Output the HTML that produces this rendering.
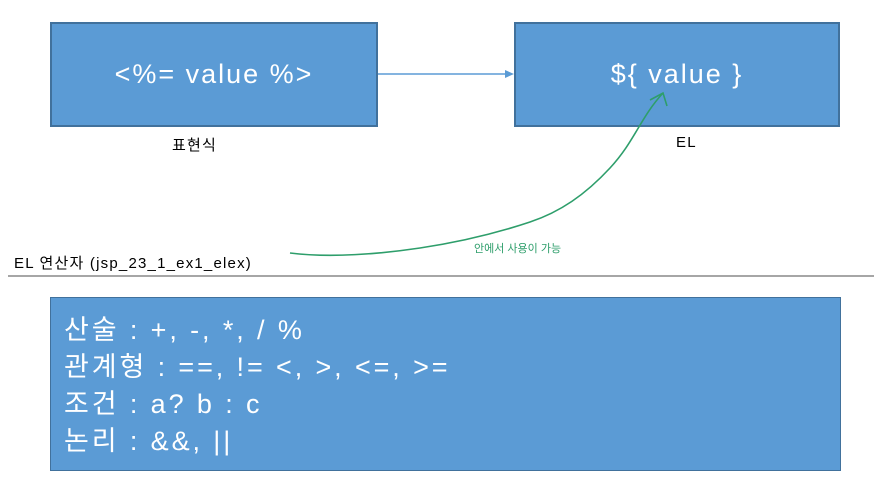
<!DOCTYPE html>
<html><head><meta charset="utf-8"><style>
body{margin:0;width:874px;height:483px;background:#fff;position:relative;overflow:hidden;font-family:"Liberation Sans","Noto Sans CJK KR",sans-serif}
.box{position:absolute;background:#5b9bd5;border:2px solid #41719c;box-sizing:border-box;color:#fff;display:flex;align-items:center;justify-content:center}
.lbl{position:absolute;font-size:15px;color:#000;letter-spacing:1.2px}
</style></head><body>
<div class="box" style="left:50px;top:22px;width:328px;height:105px;font-size:27px;letter-spacing:2px">&lt;%= value %&gt;</div>
<div class="box" style="left:514px;top:22px;width:326px;height:105px;font-size:27px;letter-spacing:2px">${ value }</div>
<div class="lbl" style="left:172px;top:134px">표현식</div>
<div class="lbl" style="left:676px;top:134px">EL</div>
<div class="lbl" style="left:14px;top:252px">EL 연산자 (jsp_23_1_ex1_elex)</div>
<svg width="874" height="483" style="position:absolute;left:0;top:0">
<line x1="378" y1="74" x2="508" y2="74" stroke="#5b9bd5" stroke-width="1.5"/>
<polygon points="514,74 505,70 505,78" fill="#5b9bd5"/>
<path d="M290,253 C330,258 380,254 420,248 S500,232 530,222 S585,195 610,168 S640,118 663,93" fill="none" stroke="#2e9e6b" stroke-width="1.6"/>
<path d="M650,100 L663,93 L667,106" fill="none" stroke="#2e9e6b" stroke-width="1.6"/>
<text x="474" y="252" font-size="11" fill="#2e9e6b" font-family="Liberation Sans,Noto Sans CJK KR,sans-serif">안에서 사용이 가능</text>
<line x1="8" y1="276" x2="874" y2="276" stroke="#a6a6a6" stroke-width="2"/>
</svg>
<div style="position:absolute;left:50px;top:297px;width:791px;height:174px;background:#5b9bd5;border:1px solid #41719c;box-sizing:border-box;color:#fff;font-size:27px;line-height:37px;padding:14px 0 0 13px;letter-spacing:2.9px">
<div>산술 : +, -, *, / %</div>
<div>관계형 : ==, != &lt;, &gt;, &lt;=, &gt;=</div>
<div>조건 : a? b : c</div>
<div>논리 : &amp;&amp;, ||</div>
</div>
</body></html>
